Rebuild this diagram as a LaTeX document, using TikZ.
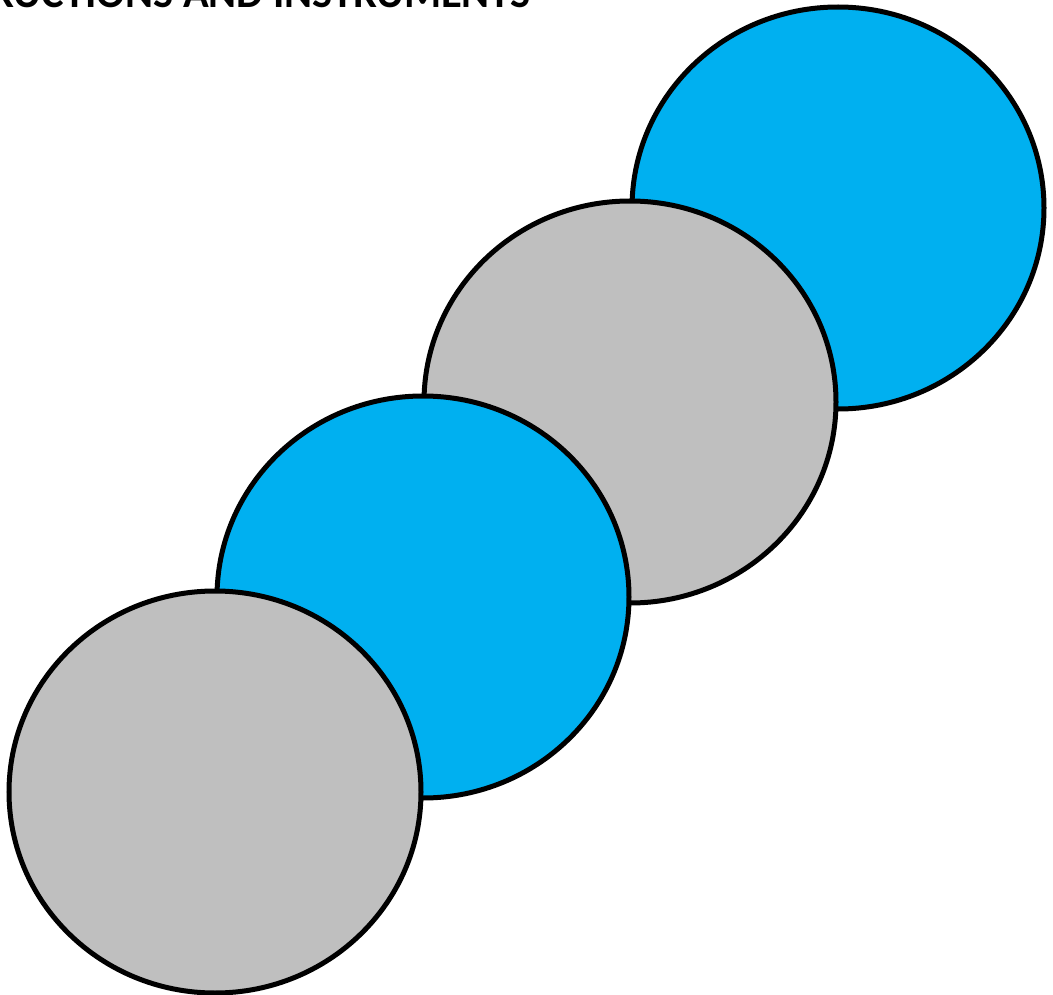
\documentclass[tikz,border=0pt]{standalone}
\usepackage{fontspec}
\setmainfont{Carlito}
\definecolor{cblue}{HTML}{00B0F0}
\definecolor{cgray}{HTML}{BFBFBF}
\begin{document}
\begin{tikzpicture}[x=1pt,y=-1pt,
  disc/.style={draw=black,line width=5pt},
  title/.style={font=\fontsize{42.5}{42.5}\selectfont\bfseries,inner sep=0pt,anchor=base east}]
\useasboundingbox (0,0) rectangle (1053,995);
\node[title] (t) at (531,8) {RUCTIONS AND INSTRUMENTS};
\path[disc,fill=cblue] (838,208) ellipse [x radius=206,y radius=201];
\path[disc,fill=cgray] (630,402) ellipse [x radius=206,y radius=201];
\path[disc,fill=cblue] (423,597) ellipse [x radius=206,y radius=201];
\path[disc,fill=cgray] (215,792) ellipse [x radius=206,y radius=201];
\end{tikzpicture}
\end{document}
